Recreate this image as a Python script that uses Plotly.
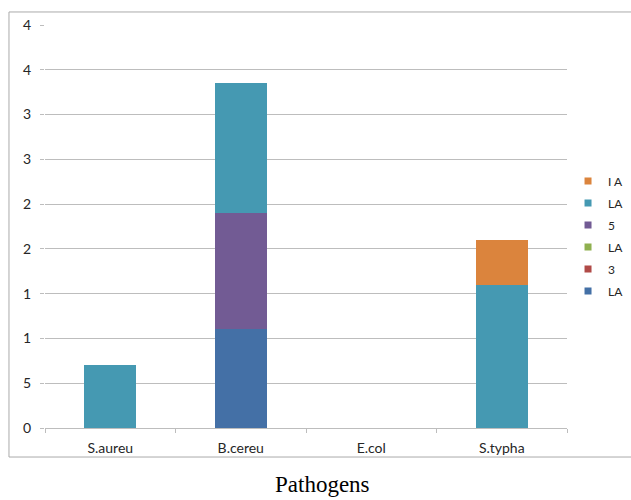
import plotly.graph_objects as go

# Pathogen categories on the x axis
pathogens = ["S.aureu", "B.cereu", "E.col", "S.typha"]

# Stacked series (bottom to top)
series_names = ["LA", "3", "LA", "5", "LA", "I A"]
la_blue = [0, 1.1, 0, 0]
s3_red = [0, 0, 0, 0]
la_green = [0, 0, 0, 0]
s5_purple = [0, 1.3, 0, 0]
la_teal = [0.7, 1.45, 0, 1.6]
ia_orange = [0, 0, 0, 0.5]
series_values = [la_blue, s3_red, la_green, s5_purple, la_teal, ia_orange]
series_colors = ["#4470A6", "#B04A47", "#8FB04F", "#725B94", "#4599B2", "#DB843D"]

# Value axis ticks and their labels
y_tickvals = [0, 0.5, 1, 1.5, 2, 2.5, 3, 3.5, 4, 4.5]
y_ticktext = ["0", "5", "1", "1", "2", "2", "3", "3", "4", "4"]

fig = go.Figure()
n = len(series_names)
for i, (name, vals, col) in enumerate(zip(series_names, series_values, series_colors)):
    fig.add_trace(go.Bar(
        x=pathogens, y=vals, name=name,
        marker=dict(color=col, line=dict(width=0)),
        width=0.4, legendgroup=f"g{i}", showlegend=False,
    ))
    # small square key for the legend, top series listed first
    fig.add_trace(go.Scatter(
        x=[None], y=[None], mode="markers", name=name,
        marker=dict(symbol="square", size=7, color=col),
        legendgroup=f"g{i}", legendrank=10 * (n - i), showlegend=True,
    ))

GRID = "#BDBDBD"
AXFONT = dict(family="Lato, Arial, sans-serif", size=14, color="#262626")

fig.update_layout(
    width=631, height=500,
    barmode="stack",
    plot_bgcolor="white", paper_bgcolor="white",
    margin=dict(l=45, r=64, t=25, b=72, autoexpand=False),
    showlegend=True,
    legend=dict(
        xref="container", yref="container",
        x=0.9002, xanchor="left", y=0.528, yanchor="middle",
        traceorder="grouped", tracegroupgap=3,
        font=dict(family="Lato, Arial, sans-serif", size=12, color="#262626"),
        bgcolor="rgba(0,0,0,0)", itemwidth=30,
    ),
    xaxis=dict(
        showline=True, linecolor=GRID, linewidth=1, automargin=False,
        ticks="outside", tickson="boundaries", ticklen=4, tickcolor=GRID,
        tickfont=AXFONT, showgrid=False, ticklabelstandoff=7,
    ),
    yaxis=dict(
        range=[0, 4.5], tickvals=y_tickvals, ticktext=y_ticktext,
        showgrid=True, gridcolor=GRID, gridwidth=1, zeroline=False,
        showline=False, ticks="outside", ticklen=4, tickcolor=GRID,
        tickfont=AXFONT, ticklabelstandoff=6, automargin=False,
    ),
    annotations=[dict(
        text="Pathogens", xref="paper", yref="paper",
        x=0.5307, y=-0.1414, xanchor="center", yanchor="middle",
        showarrow=False,
        font=dict(family="Liberation Serif, Times New Roman, serif", size=23, color="black"),
    )],
    shapes=[dict(
        type="rect", xref="paper", yref="paper",
        x0=-0.069, x1=1.25, y0=-0.072, y1=1.0323,
        line=dict(color="#ABABAB", width=1), layer="below",
    )],
)

fig.write_html("out.html")
